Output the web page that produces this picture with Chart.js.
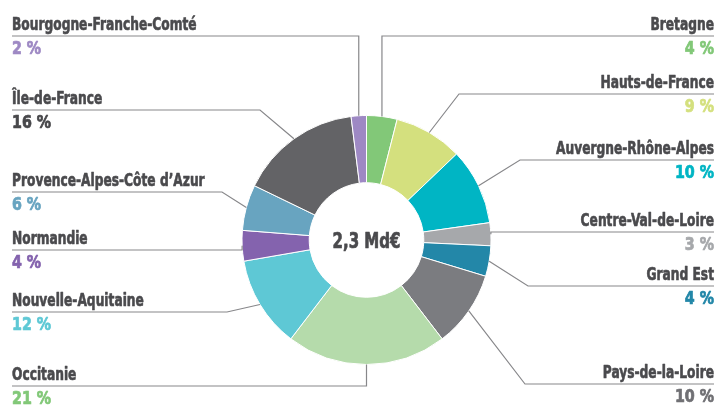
<!DOCTYPE html>
<html lang="fr">
<head>
<meta charset="utf-8">
<script src="https://cdn.jsdelivr.net/npm/chart.js@4"></script>
<style>
  html, body { margin: 0; padding: 0; background: #fff; }
  #wrap { width: 719px; height: 409px; position: relative; }
</style>
</head>
<body>
<div id="wrap"><canvas id="regionChart"></canvas></div>
<script>
// regions, clockwise from 12 o'clock
const regions = [
  "Bretagne", "Hauts-de-France", "Auvergne-Rhône-Alpes", "Centre-Val-de-Loire",
  "Grand Est", "Pays-de-la-Loire", "Occitanie", "Nouvelle-Aquitaine",
  "Normandie", "Provence-Alpes-Côte d’Azur", "Île-de-France", "Bourgogne-Franche-Comté",
];
const shares = [4, 9, 10, 3, 4, 10, 21, 12, 4, 6, 16, 2];
const sliceColours = [
  "#82c878", "#d4e07e", "#00b5c4", "#a6a8ab", "#2387a8", "#7b7c80",
  "#b5dbab", "#5ec8d5", "#8463ae", "#68a4c0", "#636366", "#9e89c4",
];
const valueColours = [
  "#82c878", "#d4e07e", "#00b5c4", "#a6a8ab", "#2387a8", "#707074",
  "#82c878", "#5ec8d5", "#8463ae", "#68a4c0", "#48484b", "#9e89c4",
];
const totalLabel = "2,3 Md€";

// label placement: side, underline y, x of the bend (null = straight from the slice)
const labelSide = ["r", "r", "r", "r", "r", "r", "l", "l", "l", "l", "l", "l"];
const lineY = [36, 94, 160, 232, 286, 384, 386, 312, 250, 192, 110, 36];
const bendX = [null, 459, 520, null, 528, 525, null, 227, null, 222, 260, null];

const FONT = '"DejaVu Sans Condensed", sans-serif';
const TEXT = "#4a4a4d";

// condensed heavy text: squeeze horizontally, thicken with a stroke of the same colour
function heavyText(ctx, text, x, y, squeeze, weight) {
  ctx.save();
  ctx.translate(x, y);
  ctx.scale(squeeze, 1);
  ctx.strokeStyle = ctx.fillStyle;
  ctx.lineWidth = weight;
  ctx.lineJoin = "round";
  ctx.fillText(text, 0, 0);
  ctx.strokeText(text, 0, 0);
  ctx.restore();
}

const leaderLabels = {
  id: "leaderLabels",
  afterDraw(chart) {
    const { ctx } = chart;
    const arcs = chart.getDatasetMeta(0).data;
    ctx.save();
    arcs.forEach((arc, i) => {
      const mid = (arc.startAngle + arc.endAngle) / 2;
      const px = arc.x + Math.cos(mid) * arc.outerRadius;
      const py = arc.y + Math.sin(mid) * arc.outerRadius;
      const right = labelSide[i] === "r";
      const edge = right ? 714 : 12;
      const y = lineY[i];

      ctx.strokeStyle = "#87878a";
      ctx.lineWidth = 1.2;
      ctx.beginPath();
      ctx.moveTo(px, py);
      ctx.lineTo(bendX[i] ?? px, y);
      ctx.lineTo(edge, y);
      ctx.stroke();

      ctx.textAlign = right ? "right" : "left";
      ctx.textBaseline = "alphabetic";
      ctx.fillStyle = TEXT;
      ctx.font = "bold 17px " + FONT;
      heavyText(ctx, regions[i], edge, y - 6, 0.80, 0.6);
      ctx.fillStyle = valueColours[i];
      ctx.font = "bold 18px " + FONT;
      heavyText(ctx, shares[i] + " %", edge, y + 18, 0.88, 0.7);
    });

    const a = arcs[0];
    ctx.textAlign = "center";
    ctx.textBaseline = "alphabetic";
    ctx.fillStyle = TEXT;
    ctx.font = "bold 22px " + FONT;
    heavyText(ctx, totalLabel, a.x, a.y + 8, 0.76, 0.7);
    ctx.restore();
  },
};

new Chart(document.getElementById("regionChart"), {
  type: "doughnut",
  data: {
    labels: regions,
    datasets: [{
      data: shares,
      backgroundColor: sliceColours,
      borderColor: "#ffffff",
      borderWidth: 1,
    }],
  },
  options: {
    responsive: true,
    maintainAspectRatio: false,
    animation: false,
    cutout: "46%",
    layout: { padding: { left: 241, right: 227, top: 115, bottom: 44 } },
    plugins: { legend: { display: false }, tooltip: { enabled: false } },
  },
  plugins: [leaderLabels],
});
</script>
</body>
</html>
